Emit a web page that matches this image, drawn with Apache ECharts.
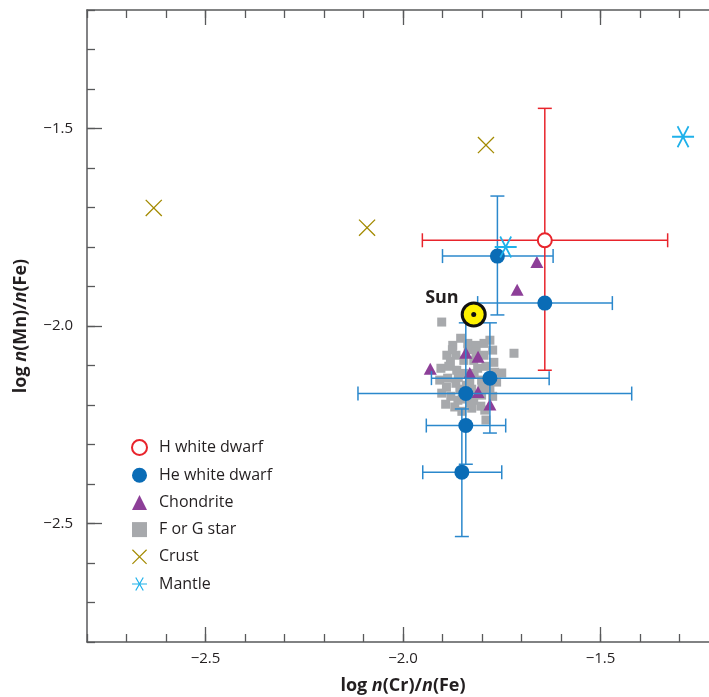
<!DOCTYPE html>
<html>
<head>
<meta charset="UTF-8">
<title>Mn vs Cr</title>
<script src="https://cdn.jsdelivr.net/npm/echarts@6/dist/echarts.min.js"></script>
<style>
  html, body { margin: 0; padding: 0; background: #fff; }
  #main { width: 709px; height: 697px; }
</style>
</head>
<body>
<div id="main"></div>
<script>
// data, log n(Cr)/n(Fe) vs log n(Mn)/n(Fe)
var hWhiteDwarf = [[-1.641, -1.783]];
// x, y, xLow, xHigh, yLow, yHigh
var hWhiteDwarfErr = [[-1.641, -1.783, -1.951, -1.330, -2.112, -1.449]];

var heWhiteDwarf = [
  [-1.761, -1.823], [-1.641, -1.942], [-1.780, -2.132],
  [-1.841, -2.171], [-1.841, -2.252], [-1.851, -2.370]
];
var heWhiteDwarfErr = [
  [-1.761, -1.823, -1.900, -1.620, -1.972, -1.671],
  [-1.641, -1.942, -1.811, -1.470, -1.942, -1.942],
  [-1.780, -2.132, -1.928, -1.630, -2.271, -1.992],
  [-1.841, -2.171, -2.114, -1.421, -2.350, -1.992],
  [-1.841, -2.252, -1.941, -1.740, -2.252, -2.252],
  [-1.851, -2.370, -1.950, -1.750, -2.533, -2.210]
];

var chondrite = [
  [-1.661, -1.838], [-1.711, -1.908], [-1.931, -2.108], [-1.841, -2.068],
  [-1.810, -2.078], [-1.831, -2.119], [-1.810, -2.167], [-1.780, -2.199]
];

var fgStar = [
  [-1.902, -1.990], [-1.719, -2.069], [-1.750, -2.119], [-1.790, -2.238],
  [-1.854, -2.031], [-1.874, -2.049], [-1.836, -2.044], [-1.816, -2.049],
  [-1.795, -2.044], [-1.780, -2.036], [-1.889, -2.074], [-1.866, -2.074],
  [-1.846, -2.087], [-1.821, -2.087], [-1.795, -2.074], [-1.773, -2.061],
  [-1.770, -2.092], [-1.904, -2.107], [-1.884, -2.102], [-1.864, -2.112],
  [-1.811, -2.107], [-1.790, -2.102], [-1.768, -2.117], [-1.907, -2.137],
  [-1.887, -2.132], [-1.866, -2.145], [-1.831, -2.142], [-1.801, -2.137],
  [-1.763, -2.142], [-1.902, -2.170], [-1.879, -2.178], [-1.861, -2.188],
  [-1.821, -2.188], [-1.801, -2.175], [-1.773, -2.178], [-1.892, -2.198],
  [-1.869, -2.205], [-1.851, -2.216], [-1.826, -2.208], [-1.803, -2.203],
  [-1.793, -2.213], [-1.846, -2.120], [-1.826, -2.160], [-1.856, -2.160],
  [-1.880, -2.090], [-1.860, -2.130], [-1.840, -2.150], [-1.820, -2.120],
  [-1.800, -2.155], [-1.780, -2.160], [-1.890, -2.155], [-1.875, -2.060],
  [-1.835, -2.060], [-1.815, -2.065], [-1.850, -2.185], [-1.830, -2.195]
];

var crust = [[-2.631, -1.701], [-2.091, -1.751], [-1.790, -1.542]];
var mantle = [[-1.291, -1.521], [-1.740, -1.800]];
var sun = [[-1.821, -1.971]];

var seriesNames = ['H white dwarf', 'He white dwarf', 'Chondrite', 'F or G star', 'Crust', 'Mantle'];
var majorTicks = [-2.5, -2.0, -1.5];

var crossPath = 'path://M1.1,0 L20,18.9 L18.9,20 L0,1.1 Z M20,1.1 L1.1,20 L0,18.9 L18.9,0 Z';
var starPath = 'path://M0,9.2 L20,9.2 L20,10.8 L0,10.8 Z ' +
  'M14.31,0.94 L15.69,1.74 L5.69,19.06 L4.31,18.26 Z ' +
  'M4.31,1.74 L5.69,0.94 L15.69,18.26 L14.31,19.06 Z';

var axisColor = '#58595b';
var textColor = '#231f20';
var fontFam = '"Open Sans", sans-serif';

function tickLabel(value) {
  return '\u2212' + Math.abs(value).toFixed(1);
}

function errRender(color) {
  return function (params, api) {
    var x = api.value(0), y = api.value(1);
    var xl = api.value(2), xh = api.value(3), yl = api.value(4), yh = api.value(5);
    var cap = 7;
    var style = { stroke: color, lineWidth: 1.5 };
    var kids = [];
    function line(a, b) {
      kids.push({ type: 'line', shape: { x1: a[0], y1: a[1], x2: b[0], y2: b[1] }, style: style });
    }
    if (xl !== xh) {
      var a = api.coord([xl, y]), b = api.coord([xh, y]);
      line(a, b);
      line([a[0], a[1] - cap], [a[0], a[1] + cap]);
      line([b[0], b[1] - cap], [b[0], b[1] + cap]);
    }
    if (yl !== yh) {
      var c = api.coord([x, yl]), d = api.coord([x, yh]);
      line(c, d);
      line([c[0] - cap, c[1]], [c[0] + cap, c[1]]);
      line([d[0] - cap, d[1]], [d[0] + cap, d[1]]);
    }
    return { type: 'group', children: kids };
  };
}

function minorAxis(pos) {
  return {
    type: 'value', min: -2.8, max: -1.2, interval: 0.1, position: pos,
    axisLine: { show: true, onZero: false, lineStyle: { color: axisColor, width: 1.5 } },
    axisTick: { show: true, inside: true, length: 8, lineStyle: { color: axisColor, width: 1.3 } },
    axisLabel: { show: false },
    splitLine: { show: false }
  };
}
function majorAxis(pos, withLabels) {
  return {
    type: 'value', min: -2.8, max: -1.2, position: pos,
    axisLine: { show: false, onZero: false },
    axisTick: { show: true, inside: true, length: 15, customValues: majorTicks,
      lineStyle: { color: axisColor, width: 1.3 } },
    axisLabel: { show: withLabels, customValues: majorTicks, formatter: tickLabel,
      color: textColor, fontSize: 15, fontFamily: fontFam },
    splitLine: { show: false }
  };
}

var chartDom = document.getElementById('main');
var myChart = echarts.init(chartDom);

var xMajor = majorAxis('bottom', true);
xMajor.axisLabel.margin = 9;
xMajor.name = '{b|log }{i|n}{b|(Cr)/}{i|n}{b|(Fe)}';
xMajor.nameLocation = 'middle';
xMajor.nameGap = 35;
xMajor.nameTextStyle = {
  rich: {
    b: { fontSize: 18, fontWeight: 'bold', color: textColor, fontFamily: fontFam },
    i: { fontSize: 18, fontWeight: 'bold', fontStyle: 'italic', color: textColor, fontFamily: fontFam }
  }
};
var yMajor = majorAxis('left', true);
yMajor.axisLabel.margin = 14;
yMajor.name = '{b|log }{i|n}{b|(Mn)/}{i|n}{b|(Fe)}';
yMajor.nameLocation = 'middle';
yMajor.nameGap = 57;
yMajor.nameTextStyle = xMajor.nameTextStyle;

var option = {
  animation: false,
  backgroundColor: '#fff',
  grid: { left: 87, top: 10, width: 632, height: 632, containLabel: false, outerBoundsMode: 'none' },
  legend: {
    orient: 'vertical', left: 126, top: 434,
    itemWidth: 15, itemHeight: 15, itemGap: 11.2,
    data: seriesNames,
    textStyle: { color: textColor, fontSize: 16, fontFamily: fontFam, padding: [0, 0, 0, 7] }
  },
  xAxis: [minorAxis('bottom'), xMajor, minorAxis('top'), majorAxis('top', false)],
  yAxis: [minorAxis('left'), yMajor],
  series: [
    {
      name: 'H white dwarf', type: 'scatter', data: hWhiteDwarf, z: 5,
      symbol: 'emptyCircle', symbolSize: 14,
      itemStyle: { color: '#e8242c', borderColor: '#e8242c', borderWidth: 2.6, opacity: 1 }
    },
    {
      name: 'He white dwarf', type: 'scatter', data: heWhiteDwarf, z: 4,
      symbol: 'circle', symbolSize: 15,
      itemStyle: { color: '#0a6cb6', opacity: 1 }
    },
    {
      name: 'Chondrite', type: 'scatter', data: chondrite, z: 2,
      symbol: 'triangle', symbolSize: [13, 12],
      itemStyle: { color: '#8d3f98', opacity: 1 }
    },
    {
      name: 'F or G star', type: 'scatter', data: fgStar, z: 1,
      symbol: 'rect', symbolSize: 9,
      itemStyle: { color: '#a7a9ac', opacity: 1 }
    },
    {
      name: 'Crust', type: 'scatter', data: crust, z: 5,
      symbol: crossPath, symbolSize: 17,
      itemStyle: { color: '#a38a00', opacity: 1 }
    },
    {
      name: 'Mantle', type: 'scatter', data: mantle, z: 5,
      symbol: starPath, symbolSize: 22,
      itemStyle: { color: '#1fb1ea', opacity: 1 }
    },
    {
      name: 'He white dwarf', type: 'custom', data: heWhiteDwarfErr, z: 3,
      renderItem: errRender('#2b88cc'), encode: { x: 0, y: 1 }, silent: true,
      itemStyle: { color: '#0a6cb6' }
    },
    {
      name: 'H white dwarf', type: 'custom', data: hWhiteDwarfErr, z: 3,
      renderItem: errRender('#e8242c'), encode: { x: 0, y: 1 }, silent: true,
      itemStyle: { color: '#e8242c' }
    },
    {
      name: 'Sun', type: 'scatter', data: sun, z: 6,
      symbol: 'circle', symbolSize: 23,
      itemStyle: { color: '#fff200', borderColor: '#111', borderWidth: 3, opacity: 1 },
      label: {
        show: true, position: 'left', distance: 2, offset: [0, -17],
        formatter: 'Sun', color: textColor, fontSize: 18, fontWeight: 'bold', fontFamily: fontFam
      }
    },
    {
      name: 'SunDot', type: 'scatter', data: sun, z: 7,
      symbol: 'circle', symbolSize: 5, silent: true,
      itemStyle: { color: '#111', opacity: 1 }
    }
  ]
};

myChart.setOption(option);
</script>
</body>
</html>
